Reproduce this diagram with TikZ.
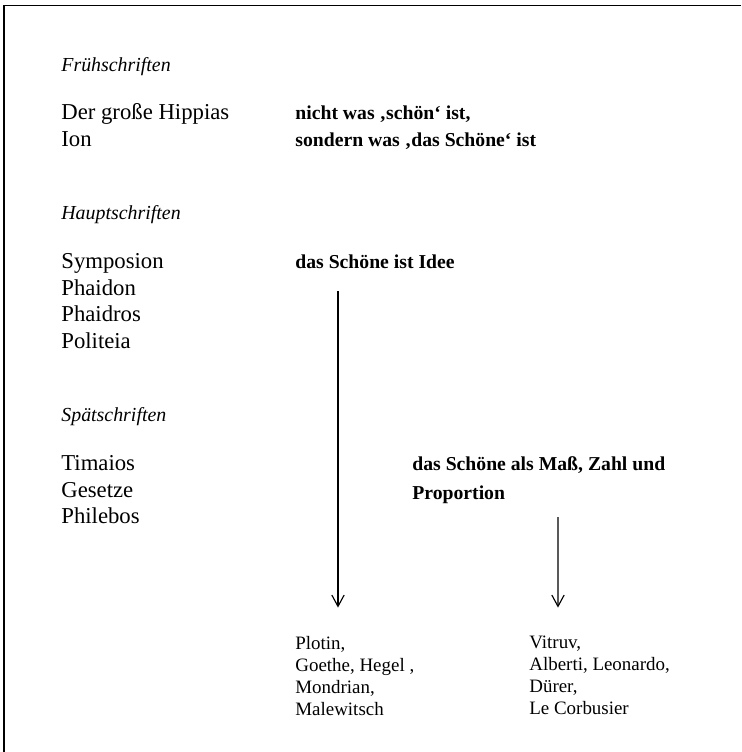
\documentclass[tikz,border=0pt]{standalone}
\usepackage{fontspec}
\setmainfont{Liberation Serif}[
    BoldFont={Liberation Serif Bold},
    ItalicFont={Liberation Serif Italic},
    BoldItalicFont={Liberation Serif Bold Italic}]
\usetikzlibrary{arrows.meta}

\begin{document}
\begin{tikzpicture}[
    x=0.528pt, y=-0.528pt,
    period/.style={anchor=north west, inner sep=0pt, font=\fontsize{10.5}{13}\selectfont\itshape},
    work/.style={anchor=north west, inner sep=0pt, align=left, font=\fontsize{12}{14.1}\selectfont},
    thesis/.style={anchor=north west, inner sep=0pt, align=left, font=\fontsize{10.4}{14.3}\selectfont\bfseries},
    heirs/.style={anchor=north west, inner sep=0pt, align=left, font=\fontsize{10}{11.6}\selectfont,
        execute at begin node=\strut},
    arr/.style={-{Straight Barb[length=6pt,width=6.5pt]}, line width=0.6pt}
]
\useasboundingbox (0,0) rectangle (741,752);
% frame, only top and left edge
\coordinate (ftop) at (741,5.5);
\coordinate (fcorner) at (4.3,5.5);
\coordinate (fbot) at (4.3,752);
\draw[line width=0.9pt] (ftop) -- (fcorner) -- (fbot);
% early writings
\node[period] (fruh) at (61,57) {Frühschriften};
\node[work] (early) at (61,103) {Der große Hippias\\Ion};
\node[thesis] (nicht) at (295,105) {nicht was ‚schön‘ ist,\\sondern was ‚das Schöne‘ ist};
% main writings
\node[period] (haupt) at (61,205) {Hauptschriften};
\node[work] (middle) at (61,253) {Symposion\\Phaidon\\Phaidros\\Politeia};
\node[thesis] (idee) at (295,254) {das Schöne ist Idee};
% late writings
\node[period] (spaet) at (61,407) {Spätschriften};
\node[work] (late) at (61,455) {Timaios\\Gesetze\\Philebos};
\node[thesis, font=\fontsize{10.4}{15.3}\selectfont\bfseries] (mass) at (412,456) {das Schöne als Maß, Zahl und\\Proportion};
% successors
\node[heirs] (plotin) at (295,636) {Plotin,\\Goethe, Hegel ,\\Mondrian,\\Malewitsch};
\node[heirs] (vitruv) at (529,636) {Vitruv,\\Alberti, Leonardo,\\Dürer,\\Le Corbusier};
\draw[arr] ([xshift=22.7pt,yshift=-12pt]idee.south west) -- ([xshift=22.7pt,yshift=15pt]plotin.north west);
\draw[arr] ([xshift=77.1pt,yshift=-7pt]mass.south west) -- ([xshift=15.3pt,yshift=15pt]vitruv.north west);
\end{tikzpicture}
\end{document}
